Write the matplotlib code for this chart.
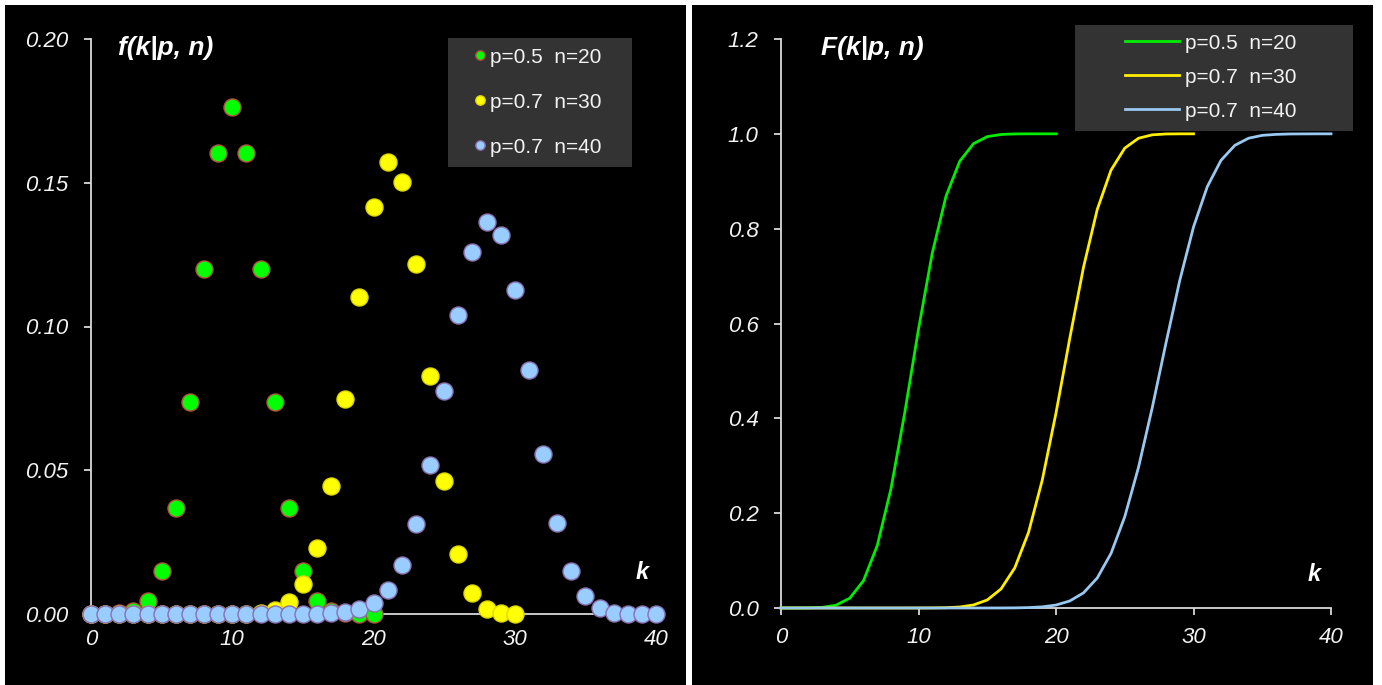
import matplotlib
matplotlib.use("Agg")
import matplotlib.pyplot as plt
from matplotlib.patches import Rectangle

# ---------------- data ----------------
k20 = list(range(0, 21))
k30 = list(range(0, 31))
k40 = list(range(0, 41))

pmf_05_20 = [0.000001, 0.000019, 0.00018, 0.0011, 0.0046, 0.0148, 0.0370, 0.0739,
             0.1201, 0.1602, 0.1762, 0.1602, 0.1201, 0.0739, 0.0370, 0.0148,
             0.0046, 0.0011, 0.00018, 0.000019, 0.000001]
pmf_07_30 = [0.0, 0.0, 0.0, 0.0, 0.0, 0.0, 0.0, 0.0, 0.000001, 0.000003, 0.00003,
             0.00013, 0.00046, 0.0015, 0.0042, 0.0106, 0.0231, 0.0444, 0.0749,
             0.1103, 0.1416, 0.1573, 0.1501, 0.1219, 0.0829, 0.0464, 0.0208,
             0.0072, 0.0018, 0.0003, 0.00002]
pmf_07_40 = [0.0, 0.0, 0.0, 0.0, 0.0, 0.0, 0.0, 0.0, 0.0, 0.0, 0.0, 0.0, 0.0,
             0.000001, 0.000004, 0.000016, 0.000059, 0.00019, 0.00058, 0.0016,
             0.0038, 0.0085, 0.0172, 0.0313, 0.0518, 0.0774, 0.1041, 0.1260,
             0.1365, 0.1318, 0.1127, 0.0849, 0.0557, 0.0315, 0.0151, 0.0061,
             0.0020, 0.0005, 0.00009, 0.00001, 0.000001]

cdf_05_20 = [0.000001, 0.00002, 0.0002, 0.0013, 0.0059, 0.0207, 0.0577, 0.1316,
             0.2517, 0.4119, 0.5881, 0.7483, 0.8684, 0.9423, 0.9793, 0.9941,
             0.9987, 0.9998, 1.0, 1.0, 1.0]
cdf_07_30 = [0.0, 0.0, 0.0, 0.0, 0.0, 0.0, 0.0, 0.0, 0.000001, 0.000004, 0.00004,
             0.00016, 0.00063, 0.0021, 0.0064, 0.0169, 0.0401, 0.0845, 0.1593,
             0.2696, 0.4112, 0.5685, 0.7186, 0.8405, 0.9234, 0.9698, 0.9907,
             0.9979, 0.9997, 1.0, 1.0]
cdf_07_40 = [0.0, 0.0, 0.0, 0.0, 0.0, 0.0, 0.0, 0.0, 0.0, 0.0, 0.0, 0.0, 0.0,
             0.000001, 0.000005, 0.00002, 0.00008, 0.00027, 0.00085, 0.0024,
             0.0062, 0.0148, 0.0319, 0.0633, 0.1151, 0.1924, 0.2966, 0.4225,
             0.5590, 0.6908, 0.8035, 0.8884, 0.9441, 0.9756, 0.9907, 0.9968,
             0.9988, 0.9997, 0.9999, 1.0, 1.0]

labels = ["p=0.5  n=20", "p=0.7  n=30", "p=0.7  n=40"]
left_yticks = [0.00, 0.05, 0.10, 0.15, 0.20]
left_yticklabels = ["0.00", "0.05", "0.10", "0.15", "0.20"]
right_yticks = [0.0, 0.2, 0.4, 0.6, 0.8, 1.0, 1.2]
right_yticklabels = ["0.0", "0.2", "0.4", "0.6", "0.8", "1.0", "1.2"]
xticks = [0, 10, 20, 30, 40]

# ---------------- styling ----------------
W, H = 1382, 685
fig = plt.figure(figsize=(W / 100, H / 100), dpi=100)
fig.patch.set_facecolor("white")
plt.rcParams["font.family"] = ["Liberation Sans", "DejaVu Sans"]

TXT = "#f2f2f2"
AX = "#d9d9d9"
fill_cols = ["#00ff00", "#ffff00", "#99ccff"]
edge_cols = ["#b05040", "#e0d800", "#8a70b0"]
line_cols = ["#00ee00", "#ffee00", "#99c8f0"]


def fx(px):
    return px / W


def fy(py):
    return 1 - py / H


# black panels
fig.add_artist(Rectangle((fx(5), fy(686)), fx(686) - fx(5), fy(5) - fy(686),
                         transform=fig.transFigure, facecolor="black", edgecolor="none", zorder=-3))
fig.add_artist(Rectangle((fx(692), fy(686)), fx(1373) - fx(692), fy(5) - fy(686),
                         transform=fig.transFigure, facecolor="black", edgecolor="none", zorder=-3))
# legend boxes
fig.add_artist(Rectangle((fx(448), fy(167)), fx(632) - fx(448), fy(38) - fy(167),
                         transform=fig.transFigure, facecolor="#333333", edgecolor="none", zorder=-2))
fig.add_artist(Rectangle((fx(1075), fy(131)), fx(1353) - fx(1075), fy(25) - fy(131),
                         transform=fig.transFigure, facecolor="#333333", edgecolor="none", zorder=-2))


def make_axes(x0, x1, y0, y1, xpad):
    ax = fig.add_axes([fx(x0), fy(y0), fx(x1) - fx(x0), fy(y1) - fy(y0)])
    ax.set_facecolor("none")
    for s in ("top", "right"):
        ax.spines[s].set_visible(False)
    for s in ("left", "bottom"):
        ax.spines[s].set_color(AX)
        ax.spines[s].set_linewidth(1.3)
    ax.tick_params(colors=AX, length=5, width=1.3, direction="out",
                   labelcolor=TXT, labelsize=16)
    ax.tick_params(axis="x", pad=xpad)
    ax.tick_params(axis="y", pad=11)
    return ax


# ---------------- left: pmf ----------------
axL = make_axes(91, 656, 614, 39, 6)
axL.set_xlim(0, 40)
axL.set_ylim(0, 0.20)
axL.set_xticks(xticks)
axL.set_xticklabels([str(t) for t in xticks], style="italic")
axL.set_yticks(left_yticks)
axL.set_yticklabels(left_yticklabels, style="italic")

series_k = [k20, k30, k40]
series_pmf = [pmf_05_20, pmf_07_30, pmf_07_40]
handles = []
for i in range(3):
    h = axL.scatter(series_k[i], series_pmf[i], s=150, facecolor=fill_cols[i],
                    edgecolor=edge_cols[i], linewidth=1.0, clip_on=False,
                    zorder=3 + i, label=labels[i])
    handles.append(h)

legL = axL.legend(handles=handles, loc="upper left",
                  bbox_to_anchor=(fx(455), fy(31)), bbox_transform=fig.transFigure,
                  frameon=False, fontsize=15, markerscale=0.55, handlelength=0.8,
                  handletextpad=0.1, labelspacing=1.25, borderpad=0.3,
                  scatteryoffsets=[0.5])
for t in legL.get_texts():
    t.set_color(TXT)

axL.text(0.047, 0.985, "f(k|p, n)", transform=axL.transAxes,
         fontsize=19, fontweight="bold", style="italic", color="white",
         ha="left", va="center")
axL.text(39.0, 0.0145, "k", fontsize=17, fontweight="bold", style="italic",
         color="white", ha="center", va="center")

# ---------------- right: cdf ----------------
axR = make_axes(781, 1331, 608, 39, 9)
axR.set_xlim(0, 40)
axR.set_ylim(0, 1.2)
axR.set_xticks(xticks)
axR.set_xticklabels([str(t) for t in xticks], style="italic")
axR.set_yticks(right_yticks)
axR.set_yticklabels(right_yticklabels, style="italic")

series_cdf = [cdf_05_20, cdf_07_30, cdf_07_40]
lines = []
for i in range(3):
    ln, = axR.plot(series_k[i], series_cdf[i], color=line_cols[i], lw=2.0,
                   clip_on=False, zorder=3 + i, label=labels[i])
    lines.append(ln)

legR = axR.legend(handles=lines, loc="upper left",
                  bbox_to_anchor=(fx(1108), fy(17)), bbox_transform=fig.transFigure,
                  frameon=False, fontsize=15, handlelength=2.6,
                  handletextpad=0.3, labelspacing=0.72, borderpad=0.3)
for t in legR.get_texts():
    t.set_color(TXT)

axR.text(0.072, 0.985, "F(k|p, n)", transform=axR.transAxes,
         fontsize=19, fontweight="bold", style="italic", color="white",
         ha="left", va="center")
axR.text(38.8, 0.07, "k", fontsize=17, fontweight="bold", style="italic",
         color="white", ha="center", va="center")

fig.savefig("out.png", dpi=100, facecolor=fig.get_facecolor())
